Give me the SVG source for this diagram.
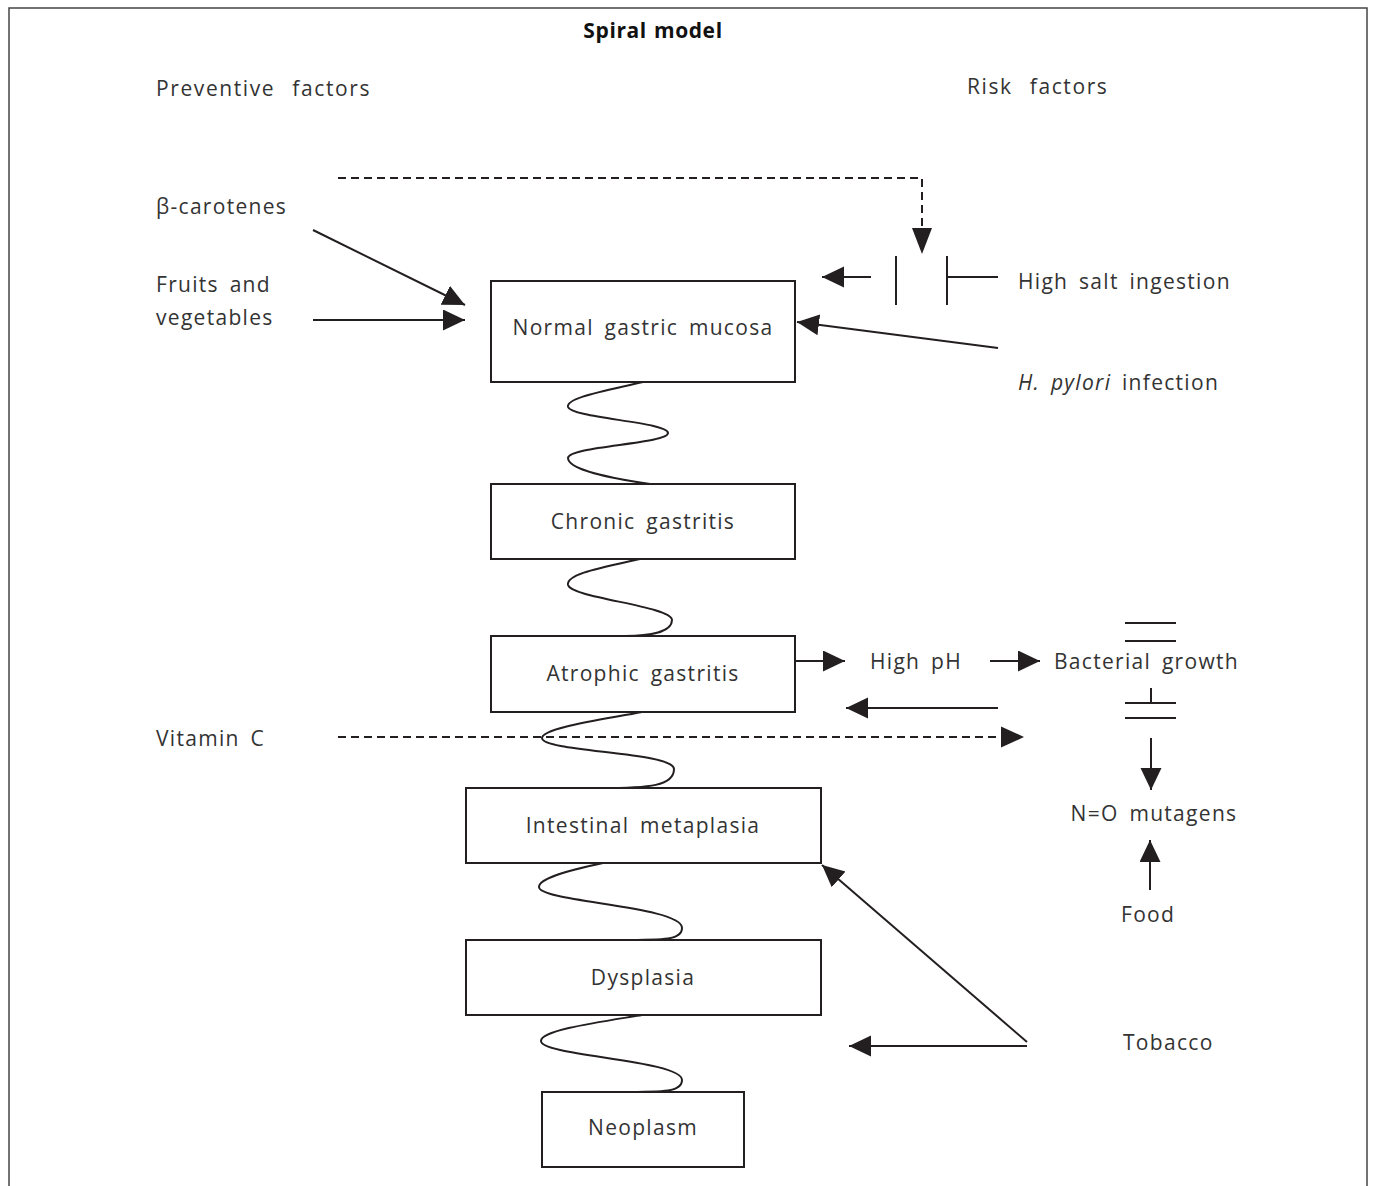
<svg xmlns="http://www.w3.org/2000/svg" width="1375" height="1186" viewBox="0 0 1375 1186">
<defs>
<marker id="ah" markerUnits="userSpaceOnUse" markerWidth="24" markerHeight="22" refX="22" refY="10.5" orient="auto" viewBox="0 0 24 22">
<path d="M0,0 L22,10.5 L0,21 z" fill="#231f20"/>
</marker>
</defs>
<style>
text{font-family:"Open Sans","Liberation Sans",sans-serif;font-size:21px;fill:#333;letter-spacing:1.3px;word-spacing:4px}
.c{text-anchor:middle}
.hd{letter-spacing:1.6px;word-spacing:10px}
.box{fill:#fff;stroke:#231f20;stroke-width:2}
.ln{fill:none;stroke:#231f20;stroke-width:2}
.ds{fill:none;stroke:#231f20;stroke-width:2;stroke-dasharray:8 5}
.sp{fill:none;stroke:#231f20;stroke-width:2}
</style>
<rect x="9" y="8" width="1358" height="1190" fill="#fff" stroke="#444" stroke-width="1.5"/>
<text x="653" y="38" class="c" style="font-weight:bold;font-size:21px;letter-spacing:0.6px;word-spacing:1px;fill:#111">Spiral model</text>
<text class="hd" x="156" y="96">Preventive factors</text>
<text class="hd" x="967" y="94">Risk factors</text>

<g id="connectors">
<path class="ds" d="M338,178 H922 V232" />
<path d="M912,228 L932,228 L922,254 z" fill="#231f20"/>
<line class="ln" x1="896" y1="256" x2="896" y2="305"/>
<line class="ln" x1="947" y1="256" x2="947" y2="305"/>
<line class="ln" x1="947" y1="277" x2="998" y2="277"/>
<line class="ln" x1="871" y1="277" x2="822" y2="277" marker-end="url(#ah)"/>
<line class="ln" x1="998" y1="348" x2="797" y2="322" marker-end="url(#ah)"/>
<line class="ln" x1="313" y1="230" x2="465" y2="305" marker-end="url(#ah)"/>
<line class="ln" x1="313" y1="320" x2="465" y2="320" marker-end="url(#ah)"/>
<line class="ln" x1="795" y1="661" x2="845" y2="661" marker-end="url(#ah)"/>
<line class="ln" x1="990" y1="661" x2="1040" y2="661" marker-end="url(#ah)"/>
<line class="ln" x1="1125" y1="623" x2="1176" y2="623"/>
<line class="ln" x1="1125" y1="641" x2="1176" y2="641"/>
<line class="ln" x1="1125" y1="703" x2="1176" y2="703"/>
<line class="ln" x1="1151" y1="688" x2="1151" y2="703"/>
<line class="ln" x1="1125" y1="718" x2="1176" y2="718"/>
<line class="ln" x1="998" y1="708" x2="846" y2="708" marker-end="url(#ah)"/>
<line class="ds" x1="338" y1="737" x2="1000" y2="737"/>
<path d="M1001,726.5 L1024,737 L1001,747.5 z" fill="#231f20"/>
<line class="ln" x1="1151" y1="738" x2="1151" y2="790" marker-end="url(#ah)"/>
<line class="ln" x1="1150" y1="890" x2="1150" y2="840" marker-end="url(#ah)"/>
<line class="ln" x1="1027" y1="1042" x2="822" y2="865" marker-end="url(#ah)"/>
<line class="ln" x1="1027" y1="1046" x2="849" y2="1046" marker-end="url(#ah)"/>
<path class="sp" d="M643,382 C600,392 566,398 568,407 C571,418 668,422 668,433 C668,444 568,446 568,458 C568,470 610,478 650,484"/>
<path class="sp" d="M640,559 C600,568 566,574 568,585 C571,598 672,606 672,620 C672,632 650,636 625,636"/>
<path class="sp" d="M642,712 C600,720 542,728 542,738 C542,752 674,752 674,769 C674,786 650,788 600,788"/>
<path class="sp" d="M603,863 C570,870 539,878 539,887 C539,902 682,906 682,928 C682,940 665,940 620,940"/>
<path class="sp" d="M642,1015 C600,1022 541,1030 541,1041 C541,1056 682,1060 682,1080 C682,1092 665,1092 620,1092"/>
</g>

<g id="n_normal"><rect class="box" x="491" y="281" width="304" height="101"/><text class="c" x="643" y="335">Normal gastric mucosa</text></g>
<g id="n_chronic"><rect class="box" x="491" y="484" width="304" height="75"/><text class="c" x="643" y="529">Chronic gastritis</text></g>
<g id="n_atrophic"><rect class="box" x="491" y="636" width="304" height="76"/><text class="c" x="643" y="681">Atrophic gastritis</text></g>
<g id="n_intestinal"><rect class="box" x="466" y="788" width="355" height="75"/><text class="c" x="643" y="833">Intestinal metaplasia</text></g>
<g id="n_dysplasia"><rect class="box" x="466" y="940" width="355" height="75"/><text class="c" x="643" y="985">Dysplasia</text></g>
<g id="n_neoplasm"><rect class="box" x="542" y="1092" width="202" height="75"/><text class="c" x="643" y="1135">Neoplasm</text></g>

<g id="l_beta"><text x="156" y="214">β-carotenes</text></g>
<g id="l_fruits"><text x="156" y="292">Fruits and</text><text x="156" y="325">vegetables</text></g>
<g id="l_salt"><text x="1018" y="289">High salt ingestion</text></g>
<g id="l_hpylori"><text x="1018" y="390"><tspan font-style="italic">H. pylori</tspan> infection</text></g>
<g id="l_highph"><text x="870" y="669">High pH</text></g>
<g id="l_bact"><text x="1054" y="669">Bacterial growth</text></g>
<g id="l_vitc"><text x="156" y="746">Vitamin C</text></g>
<g id="l_no"><text class="c" x="1154" y="821">N=O mutagens</text></g>
<g id="l_food"><text x="1121" y="922">Food</text></g>
<g id="l_tobacco"><text x="1123" y="1050">Tobacco</text></g>
</svg>
